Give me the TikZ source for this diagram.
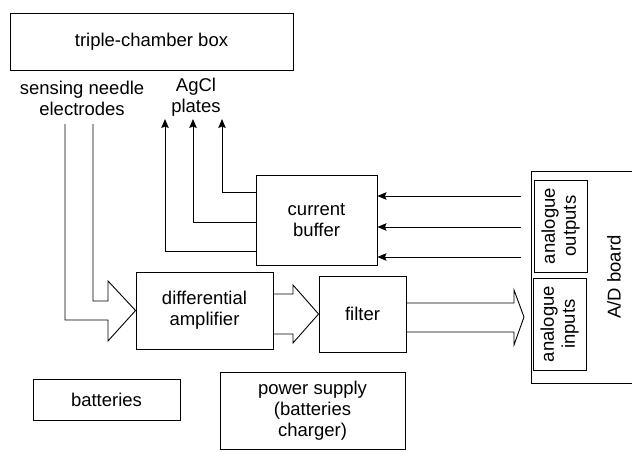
\documentclass[tikz,border=0pt]{standalone}
\usepackage{fontspec}
\setmainfont{Liberation Sans}
\usetikzlibrary{arrows.meta}
\begin{document}
\begin{tikzpicture}[x=1pt,y=-1pt,
  line width=0.9pt,
  box/.style={draw, rectangle, inner sep=0pt, align=center, font=\fontsize{18.5}{21}\selectfont},
  lbl/.style={inner sep=0pt, align=center, font=\fontsize{18.5}{21}\selectfont},
  arr/.style={-{Stealth[length=9pt,width=7.5pt,inset=1.5pt]}}]
\useasboundingbox (0,0) rectangle (632,452);
\clip (0,0) rectangle (632,452);
% boxes
\node[box, minimum width=283pt, minimum height=57pt] (tcb) at (151.5,41.5) {triple-chamber box};
\node[box, minimum width=121pt, minimum height=90pt] (cb) at (316.5,220) {current\\buffer};
\node[box, minimum width=137pt, minimum height=77pt] (da) at (204.5,310.5) {differential\\amplifier};
\node[box, minimum width=87pt, minimum height=76pt] (fl) at (362.5,314) {filter};
\node[box, minimum width=169pt, minimum height=212pt] (adb) at (615.5,277) {};
\node[lbl, rotate=90] (adl) at (614,277) {A/D board};
\node[box, minimum width=92pt, minimum height=53pt, rotate=90] (ao) at (560.5,226) {analogue\\outputs};
\node[box, minimum width=92pt, minimum height=53pt, rotate=90] (ai) at (559.5,324) {analogue\\inputs};
\node[box, minimum width=147pt, minimum height=41pt] (bat) at (106.5,399.5) {batteries};
\node[box, minimum width=185pt, minimum height=77pt] (ps) at (312.5,410.5) {power supply\\(batteries\\charger)};
% labels
\node[lbl] (sne) at (82,98) {sensing needle\\electrodes};
\node[lbl] (agcl) at (196,97) {AgCl\\plates};
% coordinates
\coordinate (e1) at (65,124);
\coordinate (e2) at (93,124);
\coordinate (p1) at (165,119);
\coordinate (p2) at (193,119);
\coordinate (p3) at (222,119);
\coordinate (o1) at (521,196);
\coordinate (o2) at (521,227);
\coordinate (o3) at (521,257);
\coordinate (tip) at (524,317);
% electrodes -> differential amplifier (fat arrow)
\draw (e1) |- (108,320) -- (108,341) -- (da.west) -- (108,281) -- (108,301) -| (e2);
% differential amplifier -> filter (fat arrow)
\draw (da.east |- 0,294) -- (293,294) -- (293,285) -- (fl.west) -- (293,343) -- (293,334) -- (da.east |- 0,334);
% filter -> analogue inputs (fat arrow)
\draw (fl.east |- 0,303) -- (514,303) -- (514,290) -- (tip) -- (514,345) -- (514,332) -- (fl.east |- 0,332);
% analogue outputs -> current buffer
\draw[arr] (o1) -- (cb.east |- o1);
\draw[arr] (o2) -- (cb.east |- o2);
\draw[arr] (o3) -- (cb.east |- o3);
% current buffer -> AgCl plates
\draw[arr] (cb.west |- 0,192) -| (p3);
\draw[arr] (cb.west |- 0,222) -| (p2);
\draw[arr] (cb.west |- 0,251) -| (p1);
\end{tikzpicture}
\end{document}
